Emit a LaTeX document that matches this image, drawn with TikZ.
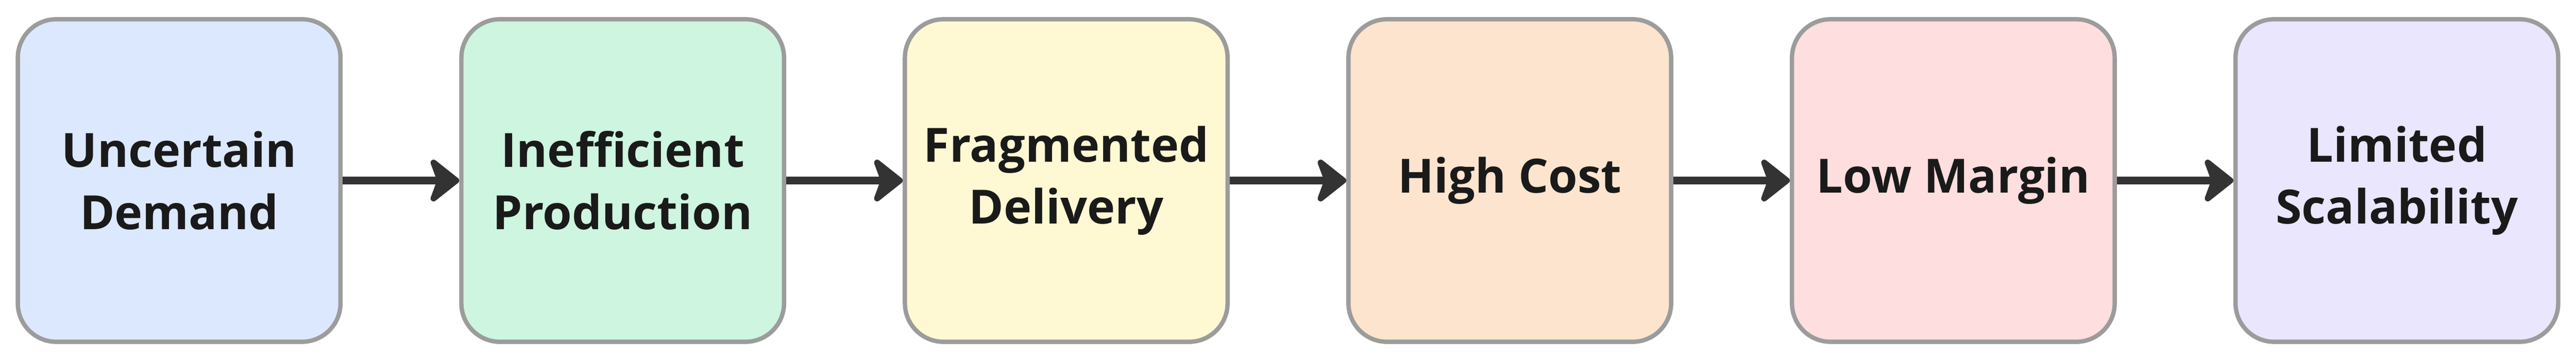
\documentclass[tikz,border=0pt]{standalone}
\usepackage{fontspec}
\setmainfont{Open Sans}
\usetikzlibrary{arrows.meta}
\definecolor{c1}{HTML}{DCE8FD}
\definecolor{c2}{HTML}{CDF5DF}
\definecolor{c3}{HTML}{FEF9D3}
\definecolor{c4}{HTML}{FDE4CE}
\definecolor{c5}{HTML}{FEDEDE}
\definecolor{c6}{HTML}{E9E6FD}
\definecolor{bd}{HTML}{9C9C9C}
\definecolor{ar}{HTML}{333333}
\definecolor{tx}{HTML}{1A1A1A}
\begin{document}
\begin{tikzpicture}[x=1pt,y=1pt,
  box/.style={draw=bd,line width=0.9pt,rounded corners=8pt,minimum width=67pt,minimum height=67pt,
    inner sep=0pt,align=center,font=\fontsize{9.8}{12.9}\selectfont\bfseries,text=tx},
  arr/.style={draw=ar,line width=1.7pt,-{Stealth[length=7pt,width=11pt,inset=2pt,round]}}]
\useasboundingbox (0,0) rectangle (534.9,74.7);
\foreach \i/\c/\n/\t in {0/c1/a/{Uncertain\\Demand},1/c2/b/{Inefficient\\Production},2/c3/c/{Fragmented\\Delivery},3/c4/d/{High Cost},4/c5/e/{Low Margin},5/c6/f/{Limited\\Scalability}}
  \node[box,fill=\c] (\n) at (37.2+92.1*\i,37.2) {\t};
\draw[arr] (a) -- (b);
\draw[arr] (b) -- (c);
\draw[arr] (c) -- (d);
\draw[arr] (d) -- (e);
\draw[arr] (e) -- (f);
\end{tikzpicture}
\end{document}
